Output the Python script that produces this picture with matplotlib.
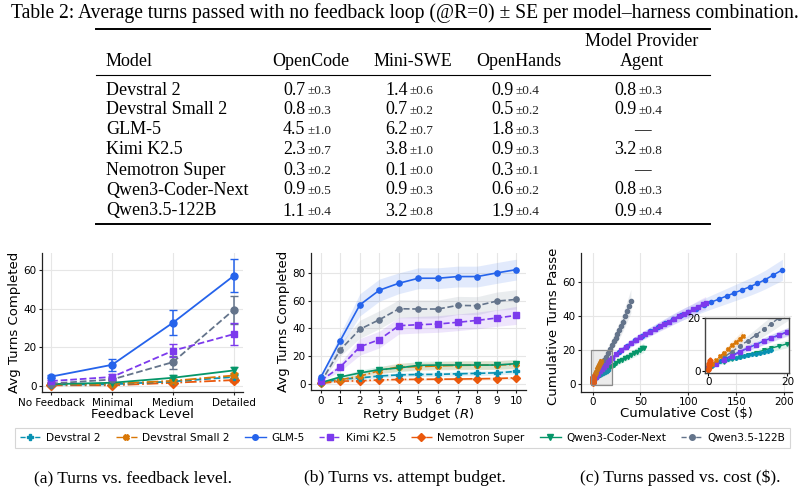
"""Table 2 plus three panels: turns vs feedback, retry budget and cost."""

import matplotlib
matplotlib.use("Agg")
import matplotlib.pyplot as plt
from matplotlib.lines import Line2D
from matplotlib.patches import Rectangle
from matplotlib.transforms import Bbox

W, H = 804, 494
SERIF = ["Liberation Serif", "DejaVu Serif"]

plt.rcParams.update({
    "font.family": "DejaVu Sans",
    "axes.linewidth": 0.9,
    "axes.edgecolor": "#222222",
    "axes.spines.top": False,
    "axes.spines.right": False,
    "xtick.labelsize": 7.5,
    "ytick.labelsize": 7.5,
    "axes.labelsize": 9.5,
    "xtick.major.size": 2.5,
    "ytick.major.size": 2.5,
    "xtick.major.pad": 1.5,
    "ytick.major.pad": 1.5,
})

# ── Table data ────────────────────────────────────────────────────────────────
TABLE_TITLE = ("Table 2: Average turns passed with no feedback loop (@R=0) "
               "\u00b1 SE per model\u2013harness combination.")
HARNESSES = ["OpenCode", "Mini-SWE", "OpenHands", "Model Provider\nAgent"]
TABLE_MODELS = ["Devstral 2", "Devstral Small 2", "GLM-5", "Kimi K2.5",
                "Nemotron Super", "Qwen3-Coder-Next", "Qwen3.5-122B"]
OPENCODE  = [("0.7", "0.3"), ("0.8", "0.3"), ("4.5", "1.0"), ("2.3", "0.7"),
             ("0.3", "0.2"), ("0.9", "0.5"), ("1.1", "0.4")]
MINI_SWE  = [("1.4", "0.6"), ("0.7", "0.2"), ("6.2", "0.7"), ("3.8", "1.0"),
             ("0.1", "0.0"), ("0.9", "0.3"), ("3.2", "0.8")]
OPENHANDS = [("0.9", "0.4"), ("0.5", "0.2"), ("1.8", "0.3"), ("0.9", "0.3"),
             ("0.3", "0.1"), ("0.6", "0.2"), ("1.9", "0.4")]
PROVIDER  = [("0.8", "0.3"), ("0.9", "0.4"), None, ("3.2", "0.8"),
             None, ("0.8", "0.3"), ("0.9", "0.4")]

# ── Series styling ────────────────────────────────────────────────────────────
MODELS = TABLE_MODELS
COLORS = {
    "Devstral 2":       "#0891b2",
    "Devstral Small 2": "#d97706",
    "GLM-5":            "#2563eb",
    "Kimi K2.5":        "#7c3aed",
    "Nemotron Super":   "#ea580c",
    "Qwen3-Coder-Next": "#059669",
    "Qwen3.5-122B":     "#64748b",
}
LINESTYLES = {
    "Devstral 2": "--", "Devstral Small 2": "-.", "GLM-5": "-",
    "Kimi K2.5": "--", "Nemotron Super": "-.", "Qwen3-Coder-Next": "-",
    "Qwen3.5-122B": "--",
}
MARKERS = {
    "Devstral 2": "P", "Devstral Small 2": "X", "GLM-5": "o",
    "Kimi K2.5": "s", "Nemotron Super": "D", "Qwen3-Coder-Next": "v",
    "Qwen3.5-122B": "o",
}
ZORDER_A = ["Nemotron Super", "Devstral 2", "Devstral Small 2",
            "Qwen3-Coder-Next", "Qwen3.5-122B", "Kimi K2.5", "GLM-5"]

# ── Panel (a): feedback level ─────────────────────────────────────────────────
FEEDBACK_LEVELS = ["No Feedback", "Minimal", "Medium", "Detailed"]
FB_MEAN = {
    "Devstral 2":       [0.7, 0.8, 2.3, 4.6],
    "Devstral Small 2": [0.8, 1.1, 2.6, 5.4],
    "GLM-5":            [4.8, 10.9, 32.7, 57.0],
    "Kimi K2.5":        [2.5, 4.6, 18.2, 26.8],
    "Nemotron Super":   [0.3, 0.3, 1.6, 3.0],
    "Qwen3-Coder-Next": [0.9, 1.6, 4.2, 8.0],
    "Qwen3.5-122B":     [1.2, 3.3, 12.3, 39.4],
}
FB_SE = {
    "Devstral 2":       [0.3, 0.4, 0.8, 1.2],
    "Devstral Small 2": [0.3, 0.4, 0.9, 1.4],
    "GLM-5":            [0.9, 3.2, 6.6, 8.5],
    "Kimi K2.5":        [0.7, 1.4, 3.3, 5.5],
    "Nemotron Super":   [0.2, 0.2, 0.6, 0.9],
    "Qwen3-Coder-Next": [0.4, 0.6, 1.3, 1.8],
    "Qwen3.5-122B":     [0.4, 1.0, 3.4, 7.2],
}

# ── Panel (b): retry budget ───────────────────────────────────────────────────
RETRY = list(range(11))
RB_MEAN = {
    "Devstral 2":       [0.7, 3.5, 4.3, 5.7, 6.5, 6.8, 6.9, 7.3, 7.6, 8.0, 9.0],
    "Devstral Small 2": [0.8, 3.0, 5.5, 9.6, 12.3, 12.4, 13.0, 13.4, 13.5, 13.7, 14.0],
    "GLM-5":            [4.8, 31.3, 57.0, 67.6, 72.6, 76.2, 76.2, 77.4, 77.4, 80.0, 82.4],
    "Kimi K2.5":        [2.3, 12.2, 26.7, 32.0, 42.0, 42.7, 43.2, 44.4, 45.8, 47.5, 49.4],
    "Nemotron Super":   [0.3, 2.0, 2.2, 2.9, 3.2, 3.3, 3.4, 3.5, 3.7, 3.9, 4.4],
    "Qwen3-Coder-Next": [0.9, 5.0, 7.9, 10.3, 11.5, 13.4, 13.6, 13.6, 13.6, 13.6, 14.6],
    "Qwen3.5-122B":     [1.2, 24.6, 39.4, 46.3, 54.2, 54.0, 54.0, 56.6, 56.4, 59.7, 60.9],
}
RB_SE = {
    "Devstral 2":       [0.3, 1.0, 1.2, 1.3, 1.4, 1.5, 1.5, 1.5, 1.6, 1.6, 1.7],
    "Devstral Small 2": [0.3, 1.0, 1.8, 2.5, 3.0, 3.0, 3.0, 3.2, 3.2, 3.2, 3.3],
    "GLM-5":            [1.0, 5.0, 8.0, 8.0, 7.5, 7.5, 7.5, 7.5, 7.5, 7.5, 7.5],
    "Kimi K2.5":        [0.7, 3.0, 6.0, 6.0, 6.0, 6.0, 6.0, 6.0, 6.0, 6.0, 6.5],
    "Nemotron Super":   [0.2, 0.6, 0.7, 0.8, 0.9, 0.9, 0.9, 1.0, 1.0, 1.0, 1.1],
    "Qwen3-Coder-Next": [0.5, 1.2, 2.0, 2.5, 2.8, 3.0, 3.0, 3.0, 3.0, 3.0, 3.2],
    "Qwen3.5-122B":     [0.4, 4.5, 6.5, 6.5, 6.5, 6.5, 6.5, 6.5, 6.5, 6.5, 7.0],
}

# ── Panel (c): cumulative cost ────────────────────────────────────────────────
CC_COST = {
    "Devstral 2":       [0, 1, 2, 3, 4, 5, 6, 7, 8, 9, 10, 11, 12, 13, 14, 15, 16],
    "Devstral Small 2": [0, 1, 2, 3, 4, 5, 6, 7, 8, 8.7],
    "GLM-5":            [0, 4, 8, 12, 16, 20, 28, 36, 44, 52, 60, 68, 76, 84, 92, 100,
                         108, 116, 124, 132, 140, 148, 156, 164, 172, 180, 188, 198],
    "Kimi K2.5":        [0, 2, 4, 6, 8, 10, 12, 14, 16, 18, 20, 25, 30, 35, 40, 45, 50,
                         55, 60, 65, 70, 75, 80, 85, 90, 95, 100, 105, 110, 115, 118],
    "Nemotron Super":   [0, 0.05, 0.1, 0.15, 0.2, 0.25, 0.3, 0.35, 0.4],
    "Qwen3-Coder-Next": [0, 2, 4, 6, 8, 10, 12, 14, 16, 18, 20, 22, 25, 28, 31, 34,
                         37, 40, 43, 46, 49, 52, 53.5],
    "Qwen3.5-122B":     [0, 2, 4, 6, 8, 10, 12, 14, 16, 18, 20, 22, 24, 26, 28, 30,
                         32, 34, 36, 38, 40],
}
CC_TURNS = {
    "Devstral 2":       [0.7, 2.0, 3.0, 3.6, 4.1, 4.5, 4.8, 5.1, 5.4, 5.7, 6.0, 6.3,
                         6.6, 6.9, 7.2, 7.5, 7.8],
    "Devstral Small 2": [0.8, 2.5, 4.0, 5.5, 7.0, 8.3, 9.8, 11.0, 12.3, 13.3],
    "GLM-5":            [1.5, 4.5, 7.3, 10.0, 12.6, 14.9, 18.8, 22.3, 25.4, 28.2, 30.7,
                         33.2, 35.6, 38.0, 40.2, 42.2, 44.2, 46.1, 48.0, 49.8, 51.6,
                         53.4, 55.2, 57.0, 59.0, 61.2, 63.8, 67.0],
    "Kimi K2.5":        [1.0, 2.5, 4.0, 5.6, 7.2, 8.8, 10.0, 11.2, 12.4, 13.6, 14.8,
                         17.3, 19.6, 21.7, 23.6, 25.5, 27.2, 28.9, 30.5, 32.0, 33.6,
                         35.0, 36.5, 38.0, 39.5, 41.0, 42.3, 43.7, 45.3, 46.7, 47.5],
    "Nemotron Super":   [0.3, 0.8, 1.3, 1.8, 2.3, 2.8, 3.2, 3.6, 4.0],
    "Qwen3-Coder-Next": [1.0, 2.5, 3.5, 4.5, 5.3, 6.2, 7.0, 7.8, 8.7, 9.5, 10.3, 11.0,
                         12.1, 13.1, 14.1, 15.0, 15.9, 16.8, 17.8, 18.8, 19.8, 20.7, 21.2],
    "Qwen3.5-122B":     [0.8, 3.0, 5.2, 7.3, 9.4, 11.5, 13.6, 15.8, 18.0, 20.3, 22.5,
                         24.8, 27.0, 29.2, 31.5, 33.8, 36.5, 39.5, 42.5, 45.5, 48.5],
}
CC_SE = {
    "Devstral 2":       [0.3, 0.5, 0.6, 0.7, 0.7, 0.8, 0.8, 0.8, 0.9, 0.9, 0.9, 1.0,
                         1.0, 1.0, 1.0, 1.1, 1.1],
    "Devstral Small 2": [0.3, 0.6, 0.8, 1.0, 1.2, 1.4, 1.6, 1.8, 2.0, 2.2],
    "GLM-5":            [0.5, 0.8, 1.0, 1.2, 1.4, 1.5, 1.7, 1.9, 2.1, 2.3, 2.5, 2.7,
                         2.9, 3.1, 3.3, 3.5, 3.7, 3.9, 4.1, 4.3, 4.5, 4.7, 4.9, 5.1,
                         5.3, 5.5, 5.8, 6.2],
    "Kimi K2.5":        [0.4, 0.6, 0.8, 0.9, 1.0, 1.1, 1.2, 1.3, 1.4, 1.5, 1.6, 1.8,
                         2.0, 2.1, 2.2, 2.3, 2.4, 2.5, 2.6, 2.7, 2.8, 2.9, 3.0, 3.1,
                         3.2, 3.3, 3.4, 3.5, 3.6, 3.7, 3.8],
    "Nemotron Super":   [0.2, 0.3, 0.3, 0.4, 0.4, 0.5, 0.5, 0.6, 0.6],
    "Qwen3-Coder-Next": [0.4, 0.6, 0.7, 0.8, 0.9, 1.0, 1.1, 1.2, 1.3, 1.4, 1.5, 1.6,
                         1.7, 1.8, 1.9, 2.0, 2.1, 2.2, 2.3, 2.5, 2.6, 2.8, 3.0],
    "Qwen3.5-122B":     [0.4, 0.8, 1.1, 1.4, 1.7, 2.0, 2.3, 2.6, 2.9, 3.2, 3.5, 3.8,
                         4.1, 4.4, 4.7, 5.0, 5.3, 5.7, 6.1, 6.5, 7.0],
}

CAPTIONS = ["(a) Turns vs. feedback level.", "(b) Turns vs. attempt budget.",
            "(c) Turns passed vs. cost ($)."]


def fx(px):
    return px / W


def fy(py):
    return 1 - py / H


def style_axes(ax):
    ax.grid(True, color="#e6e6e6", linewidth=0.8)
    ax.set_axisbelow(True)
    ax.tick_params(colors="#222222", labelcolor="black")


fig = plt.figure(figsize=(W / 100, H / 100), dpi=100)

# ── Table ─────────────────────────────────────────────────────────────────────
fig.text(fx(405), fy(13), TABLE_TITLE, ha="center", va="center",
         fontsize=14.1, family=SERIF)
for py, lw in [(29, 1.4), (75, 0.8), (224, 1.4)]:
    fig.add_artist(Line2D([fx(96), fx(710)], [fy(py), fy(py)],
                          color="black", linewidth=lw))

head_y = 61
fig.text(fx(106), fy(head_y), "Model", ha="left", va="center",
         fontsize=13, family=SERIF)
col_centers = [311, 413, 519, 642]
col_splits = [305.5, 407.5, 513.5, 636.5]
for name, cx in zip(HARNESSES, col_centers):
    for k, part in enumerate(reversed(name.split("\n"))):
        fig.text(fx(cx), fy(head_y - 20 * k), part, ha="center", va="center",
                 fontsize=13, family=SERIF)

row_y = [90, 110, 130, 150, 170, 190, 211]
columns = [OPENCODE, MINI_SWE, OPENHANDS, PROVIDER]
for i, model in enumerate(TABLE_MODELS):
    y = fy(row_y[i])
    fig.text(fx(106), y, model, ha="left", va="center", fontsize=13, family=SERIF)
    for col, sx, cx in zip(columns, col_splits, col_centers):
        cell = col[i]
        if cell is None:
            fig.text(fx(cx), y, "\u2014", ha="center", va="center",
                     fontsize=12, family=SERIF)
            continue
        val, se = cell
        fig.text(fx(sx), y, val, ha="right", va="center", fontsize=13, family=SERIF)
        fig.text(fx(sx + 1.5), y - 0.003, "\u00b1" + se, ha="left", va="center",
                 fontsize=9.5, family=SERIF, color="#222222")

# ── Panel (a) ─────────────────────────────────────────────────────────────────
ax_a = fig.add_axes([fx(42), fy(392), fx(201), 139 / H])
style_axes(ax_a)
xs = list(range(len(FEEDBACK_LEVELS)))
for m in ZORDER_A:
    ax_a.errorbar(xs, FB_MEAN[m], yerr=FB_SE[m], color=COLORS[m],
                  linestyle=LINESTYLES[m], marker=MARKERS[m], markersize=5,
                  linewidth=1.3, capsize=3, elinewidth=1.1, capthick=1.0)
ax_a.set_xticks(xs)
ax_a.set_xticklabels(FEEDBACK_LEVELS)
ax_a.set_yticks([0, 20, 40, 60])
ax_a.set_xlabel("Feedback Level", labelpad=0)
ax_a.set_ylabel("Avg Turns Completed", labelpad=2)

# ── Panel (b) ─────────────────────────────────────────────────────────────────
ax_b = fig.add_axes([fx(311), fy(390), fx(215), 137 / H])
style_axes(ax_b)
for m in ZORDER_A:
    lo = [v - s for v, s in zip(RB_MEAN[m], RB_SE[m])]
    hi = [v + s for v, s in zip(RB_MEAN[m], RB_SE[m])]
    ax_b.fill_between(RETRY, lo, hi, color=COLORS[m], alpha=0.13, linewidth=0)
    ax_b.plot(RETRY, RB_MEAN[m], color=COLORS[m], linestyle=LINESTYLES[m],
              marker=MARKERS[m], markersize=3.8, linewidth=1.2)
ax_b.set_xticks(RETRY)
ax_b.set_xlim(-0.5, 10.5)
ax_b.set_yticks([0, 20, 40, 60, 80])
ax_b.set_xlabel("Retry Budget ($R$)", labelpad=0)
ax_b.set_ylabel("Avg Turns Completed", labelpad=2)

# ── Panel (c) ─────────────────────────────────────────────────────────────────
ax_c = fig.add_axes([fx(581), fy(391.5), fx(211), 138.5 / H])
style_axes(ax_c)
ZORDER_C = ["Qwen3.5-122B", "Qwen3-Coder-Next", "Devstral 2", "GLM-5",
            "Kimi K2.5", "Devstral Small 2", "Nemotron Super"]


def draw_cost(ax, small=False):
    for m in ZORDER_C:
        lo = [v - s for v, s in zip(CC_TURNS[m], CC_SE[m])]
        hi = [v + s for v, s in zip(CC_TURNS[m], CC_SE[m])]
        ax.fill_between(CC_COST[m], lo, hi, color=COLORS[m], alpha=0.13, linewidth=0)
        ax.plot(CC_COST[m], CC_TURNS[m], color=COLORS[m], linestyle=LINESTYLES[m],
                marker=MARKERS[m], markersize=2.6 if small else 3.0,
                linewidth=1.0 if small else 1.1)


draw_cost(ax_c)
ax_c.add_patch(Rectangle((-2, -1), 22, 21, facecolor="0.5", alpha=0.15,
                         edgecolor="none", zorder=5))
ax_c.add_patch(Rectangle((-2, -1), 22, 21, facecolor="none",
                         edgecolor="0.55", linewidth=0.9, zorder=5))
ax_c.set_xticks([0, 50, 100, 150, 200])
ax_c.set_yticks([0, 20, 40, 60])
ax_c.set_xlabel("Cumulative Cost (\\$)", labelpad=0)
# the source panel was cropped just above the axes, cutting the label's tail
ylab = ax_c.set_ylabel("Cumulative Turns Passed", labelpad=2)
ylab.set_clip_on(True)
ylab.set_clip_box(Bbox.from_extents(0, 0, W, H - 249))

ins = fig.add_axes([fx(705), fy(373.3), fx(84.3), 55 / H])
ins.set_facecolor("white")
draw_cost(ins, small=True)
ins.set_xlim(-0.8, 20.5)
ins.set_ylim(-0.9, 20)
ins.set_xticks([0, 20])
ins.set_yticks([0, 20])
ins.tick_params(labelsize=7.5, length=2, pad=1)
for sp in ins.spines.values():
    sp.set_visible(True)
    sp.set_color("#444444")
    sp.set_linewidth(1.0)

# ── Shared legend ─────────────────────────────────────────────────────────────
handles = [Line2D([], [], color=COLORS[m], linestyle=LINESTYLES[m],
                  marker=MARKERS[m], markersize=4, linewidth=1.0) for m in MODELS]
leg = fig.legend(handles, MODELS, loc="center", ncol=7, mode="expand",
                 bbox_to_anchor=(fx(15), fy(448), fx(775), 20 / H),
                 fontsize=7.6, frameon=True, fancybox=False, edgecolor="#cccccc",
                 handlelength=2.0, handletextpad=0.5, borderpad=0.45,
                 columnspacing=0.6, borderaxespad=0)
leg.get_frame().set_linewidth(0.8)

for cx, cap in zip([133, 405, 680], CAPTIONS):
    fig.text(fx(cx), fy(478), cap, ha="center", va="center", fontsize=12.6,
             family=SERIF)

fig.savefig("out.png", dpi=100)
